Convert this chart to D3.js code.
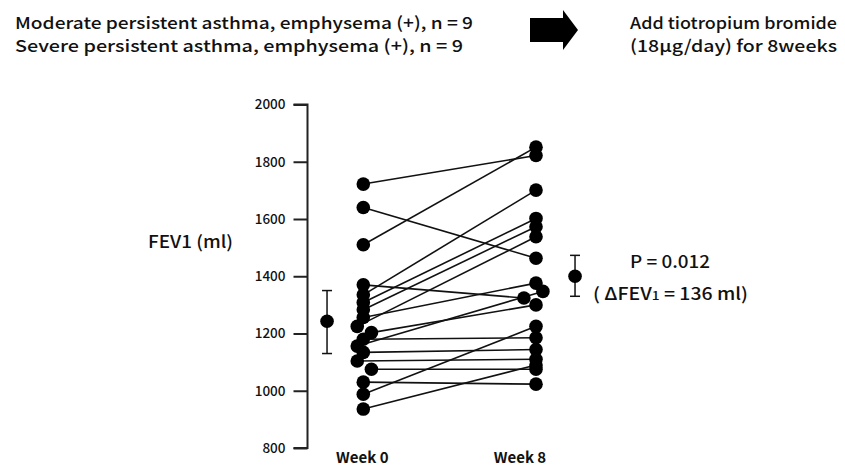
<!DOCTYPE html>
<html>
<head>
<meta charset="utf-8">
<script src="https://cdn.jsdelivr.net/npm/d3@7"></script>
<style>
  html, body { margin: 0; padding: 0; background: #fff; }
  svg { display: block; }
  text { font-family: "Noto Sans CJK JP", "Liberation Sans", Arial, sans-serif; fill: #111; }
</style>
</head>
<body>
<svg id="chart" width="845" height="467"></svg>
<script>
// FEV1 (ml) per patient, before and after 8 weeks of tiotropium
const timepoints = ["Week 0", "Week 8"];
const week0 = [1722, 1640, 1510, 1370, 1335, 1308, 1283, 1256, 1225, 1203, 1180, 1156, 1134, 1104, 1075, 1030, 988, 936];
const week8 = [1822, 1463, 1851, 1324, 1701, 1602, 1573, 1376, 1538, 1300, 1185, 1347, 1144, 1110, 1075, 1023, 1225, 1090];
// small horizontal spread so overlapping dots stay visible (in x-scale units)
const week0Spread = [0, 0, 0, 0, 0, 0, 0, 0, -0.035, 0.047, 0, -0.035, 0, -0.035, 0.047, 0, 0, 0];
const week8Spread = [0, 0, 0, -0.07, 0, 0, 0, 0, 0, 0, 0, 0.04, 0, 0, 0, 0, 0, 0];

// group mean and error bar (ml)
const groupMean = [1243, 1400];
const groupLow = [1130, 1330];
const groupHigh = [1350, 1473];

const yTicks = [800, 1000, 1200, 1400, 1600, 1800, 2000];

const svg = d3.select("#chart");

const y = d3.scaleLinear().domain([800, 2000]).range([448, 104.5]);
const x = d3.scaleLinear().domain([0, 1]).range([363.3, 536]);
const summaryX = [-0.21, 1.226];

// y axis: ticks on the left of the spine
const axis = d3.axisLeft(y).tickValues(yTicks).tickSize(14).tickPadding(8).tickFormat(d3.format("d"));
const gAxis = svg.append("g").attr("transform", "translate(307.5,0)").call(axis);
gAxis.select(".domain").attr("d", `M-14,${y(800)}H0V${y(2000)}H-14`).attr("stroke", "#222").attr("stroke-width", 2).attr("fill", "none");
gAxis.selectAll(".tick line").attr("stroke", "#222").attr("stroke-width", 2);
gAxis.selectAll(".tick text")
  .style("font-family", "'Noto Sans CJK JP', 'Liberation Sans', sans-serif")
  .style("font-size", "13.5px").style("font-weight", "500").attr("fill", "#111");

// paired lines
const pairs = week0.map((v, i) => ({ a: v, b: week8[i], ja: week0Spread[i], jb: week8Spread[i] }));
svg.append("g").selectAll("line").data(pairs).join("line")
  .attr("x1", d => x(0 + d.ja)).attr("y1", d => y(d.a))
  .attr("x2", d => x(1 + d.jb)).attr("y2", d => y(d.b))
  .attr("stroke", "#111").attr("stroke-width", 1.6);

// patient dots
const dots = [];
pairs.forEach(d => { dots.push({ t: 0 + d.ja, v: d.a }); dots.push({ t: 1 + d.jb, v: d.b }); });
svg.append("g").selectAll("circle").data(dots).join("circle")
  .attr("cx", d => x(d.t)).attr("cy", d => y(d.v)).attr("r", 6.8).attr("fill", "#000");

// mean with error bars
const summary = groupMean.map((m, i) => ({ m, lo: groupLow[i], hi: groupHigh[i], t: summaryX[i] }));
const gs = svg.append("g").selectAll("g").data(summary).join("g");
gs.append("line").attr("x1", d => x(d.t)).attr("x2", d => x(d.t))
  .attr("y1", d => y(d.lo)).attr("y2", d => y(d.hi)).attr("stroke", "#111").attr("stroke-width", 1.5);
gs.append("line").attr("x1", d => x(d.t) - 5).attr("x2", d => x(d.t) + 5)
  .attr("y1", d => y(d.lo)).attr("y2", d => y(d.lo)).attr("stroke", "#111").attr("stroke-width", 1.5);
gs.append("line").attr("x1", d => x(d.t) - 5).attr("x2", d => x(d.t) + 5)
  .attr("y1", d => y(d.hi)).attr("y2", d => y(d.hi)).attr("stroke", "#111").attr("stroke-width", 1.5);
gs.append("circle").attr("cx", d => x(d.t)).attr("cy", d => y(d.m)).attr("r", 6.8).attr("fill", "#000");

// time labels
const labelShift = [-1, -16];
svg.append("g").selectAll("text").data(timepoints).join("text")
  .attr("x", (d, i) => x(i) + labelShift[i]).attr("y", 463)
  .attr("text-anchor", "middle").style("font-size", "15px").style("font-weight", "bold")
  .text(d => d);

// y label
svg.append("text").attr("x", 148).attr("y", 248)
  .style("font-size", "17px").style("font-weight", "500")
  .attr("textLength", 85).attr("lengthAdjust", "spacingAndGlyphs")
  .text("FEV1 (ml)");

// header
const header = svg.append("g").style("font-size", "16.5px").style("font-weight", "500");
header.append("text").attr("x", 15).attr("y", 28.5).attr("textLength", 458).attr("lengthAdjust", "spacingAndGlyphs")
  .text("Moderate persistent asthma, emphysema (+), n = 9");
header.append("text").attr("x", 15).attr("y", 51.5).attr("textLength", 448).attr("lengthAdjust", "spacingAndGlyphs")
  .text("Severe persistent asthma, emphysema (+), n = 9");
header.append("text").attr("x", 630).attr("y", 28.5).attr("textLength", 207).attr("lengthAdjust", "spacingAndGlyphs")
  .text("Add tiotropium bromide");
header.append("text").attr("x", 630).attr("y", 51.5).attr("textLength", 207).attr("lengthAdjust", "spacingAndGlyphs")
  .text("(18\u03bcg/day) for 8weeks");

// block arrow between the two header groups
svg.append("path")
  .attr("d", "M530,18H563V10L578,30L563,50V42H530Z")
  .attr("fill", "#000");

// statistics
const stats = svg.append("g").style("font-size", "17px").style("font-weight", "500");
stats.append("text").attr("x", 630).attr("y", 268).attr("textLength", 80).attr("lengthAdjust", "spacingAndGlyphs")
  .text("P = 0.012");
const t2 = stats.append("text").attr("x", 593).attr("y", 300)
  .attr("textLength", 155).attr("lengthAdjust", "spacingAndGlyphs");
t2.append("tspan").text("( \u0394FEV");
t2.append("tspan").style("font-size", "12px").text("1");
t2.append("tspan").text(" = 136 ml)");
</script>
</body>
</html>
